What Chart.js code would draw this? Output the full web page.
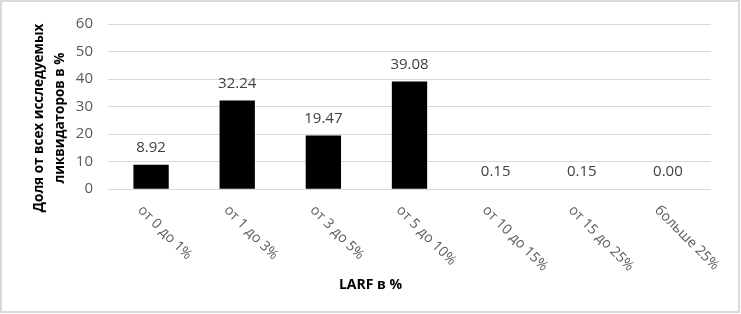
<!DOCTYPE html>
<html>
<head>
<meta charset="utf-8">
<script src="https://cdn.jsdelivr.net/npm/chart.js@4/dist/chart.umd.min.js"></script>
<style>
  html, body { margin: 0; padding: 0; background: #fff; }
  #wrap { width: 741px; height: 314px; position: relative; }
</style>
</head>
<body>
<div id="wrap"><canvas id="c"></canvas></div>
<script>
// LARF distribution
const categories = ['от 0 до 1%', 'от 1 до 3%', 'от 3 до 5%', 'от 5 до 10%', 'от 10 до 15%', 'от 15 до 25%', 'больше 25%'];
const shares = [8.92, 32.24, 19.47, 39.08, 0.15, 0.15, 0.00];
const yTitleLines = ['Доля от всех исследуемых', 'ликвидаторов в %'];
const xTitle = 'LARF в %';

const FONT = '"Open Sans", "Noto Sans", sans-serif';
const GRID = '#d9d9d9';

// value labels above bars, slanted category labels, y title, frame
const decor = {
    id: 'decor',
    afterDatasetsDraw(chart) {
        const ctx = chart.ctx;
        const meta = chart.getDatasetMeta(0);
        ctx.save();
        ctx.font = '15px ' + FONT;
        ctx.fillStyle = '#404040';
        ctx.textAlign = 'center';
        ctx.textBaseline = 'middle';
        meta.data.forEach((bar, i) => {
            ctx.fillText(shares[i].toFixed(2), bar.x, bar.y - 17);
        });
        ctx.restore();
    },
    afterDraw(chart) {
        const ctx = chart.ctx;
        const xs = chart.scales.x;
        ctx.save();
        ctx.font = '14px ' + FONT;
        ctx.fillStyle = '#595959';
        ctx.textAlign = 'left';
        ctx.textBaseline = 'middle';
        categories.forEach((lab, i) => {
            const px = xs.getPixelForTick(i);
            ctx.save();
            ctx.translate(px - 11, 208);
            ctx.rotate(Math.PI / 4);
            ctx.fillText(lab, 0, 0);
            ctx.restore();
        });

        // y title, two lines, bold
        ctx.font = 'bold 13.5px ' + FONT;
        ctx.fillStyle = '#000';
        ctx.textAlign = 'center';
        yTitleLines.forEach((t, i) => {
            ctx.save();
            ctx.translate(39 + i * 21, 118);
            ctx.rotate(-Math.PI / 2);
            ctx.fillText(t, 0, 0);
            ctx.restore();
        });

        ctx.strokeStyle = GRID;
        ctx.lineWidth = 2;
        ctx.strokeRect(1, 1, 738, 311);
        ctx.restore();
    }
};

new Chart(document.getElementById('c'), {
    type: 'bar',
    data: {
        labels: categories,
        datasets: [{
            data: shares,
            backgroundColor: '#000',
            categoryPercentage: 1,
            barPercentage: 0.41
        }]
    },
    options: {
        responsive: true,
        maintainAspectRatio: false,
        animation: false,
        layout: { padding: { top: 19, right: 30, left: 30, bottom: 0 } },
        plugins: {
            legend: { display: false },
            tooltip: { enabled: false },
            title: {
                display: true,
                position: 'bottom',
                text: xTitle,
                color: '#000',
                font: { family: FONT, size: 14, weight: 'bold' },
                padding: { top: 0, bottom: 21 }
            }
        },
        scales: {
            x: {
                grid: { display: false },
                border: { display: false },
                ticks: { display: false },
                afterFit: s => { s.height = 87; }
            },
            y: {
                min: 0, max: 60,
                grid: { color: GRID, lineWidth: 1, drawTicks: false },
                border: { display: false },
                ticks: {
                    stepSize: 10,
                    padding: 15,
                    color: '#595959',
                    font: { family: FONT, size: 15 }
                },
                afterFit: s => { s.width = 78; }
            }
        }
    },
    plugins: [decor]
});
</script>
</body>
</html>
